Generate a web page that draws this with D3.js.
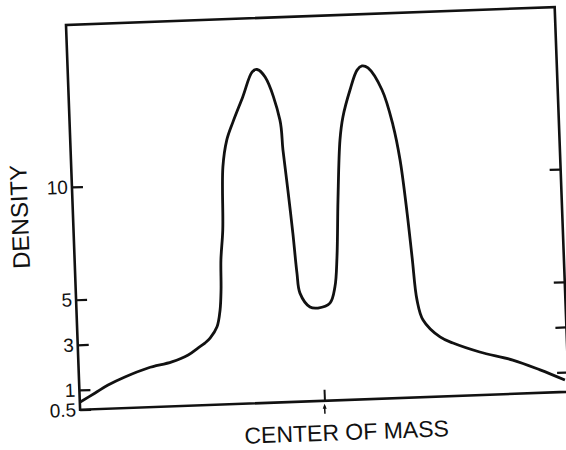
<!DOCTYPE html>
<html>
<head>
<meta charset="utf-8">
<script src="https://cdn.jsdelivr.net/npm/d3@7"></script>
<style>
  body { margin: 0; background: #fff; }
  svg { display: block; }
  text { font-family: "Liberation Sans", Arial, sans-serif; fill: #111; }
</style>
</head>
<body>
<div id="chart-area"></div>
<script>
// Density profile (x: -50..50 across the box, 0 = centre of mass)
let posX = [-50, -46.8, -44.1, -40.6, -35.8, -30.9, -27.5, -25.4, -24.0, -22.9, -21.4, -20.65,
    -20.3, -20.1, -19.5, -19.0, -18.0, -16.6, -14.4, -12.3, -11.3, -9.7, -7.0, -6.6, -5.9, -5.2,
    -4.66, -4.2, -2.25, -0.63, 1.86, 3.0, 3.64, 4.27, 5.13, 5.9, 7.55, 9.14, 10.18, 11.4, 14.1,
    16.07, 17.26, 18.3, 19.0, 19.67, 20.76, 24.1, 26.7, 32.1, 38.8, 44.3, 49.3];
let density = [0.69, 0.91, 1.17, 1.5, 1.86, 2.09, 2.37, 2.67, 2.87, 3.08, 3.57, 4.31,
    5.2, 6.53, 7.85, 10.64, 11.83, 12.62, 13.72, 14.8, 14.9, 14.55, 12.63, 11.3, 9.52, 7.6,
    5.82, 4.93, 4.3, 4.24, 4.44, 5.15, 6.47, 8.99, 11.65, 12.66, 13.84, 14.71, 14.89, 14.79, 13.79,
    12.22, 10.66, 8.3, 6.3, 4.44, 3.54, 2.76, 2.47, 2.03, 1.62, 1.14, 0.8];

let yTicks = [0.5, 1, 3, 5, 10];
let yTicksRight = [1, 3, 5, 10];
let xTicks = [0];

let data = posX.map((x, i) => ({x: x, y: density[i]}));

let W = 566, H = 450;
let width = 489, height = 385;

let svg = d3.select("#chart-area").append("svg")
    .attr("width", W)
    .attr("height", H);

// the scanned page sits slightly tilted
let g = svg.append("g")
    .attr("transform", "translate(66,25) rotate(-2.1)");

let x = d3.scaleLinear()
    .domain([-50, 50])
    .range([0, width]);

// axis is not linear below 1 (0.5 sits on the bottom edge)
let y = d3.scaleLinear()
    .domain([0.5, 1, 17.18])
    .range([height, 365.2, 0]);

// frame
g.append("rect")
    .attr("width", width)
    .attr("height", height)
    .attr("fill", "none")
    .attr("stroke", "#111")
    .attr("stroke-width", 2.6);

let yAxis = d3.axisLeft(y)
    .tickValues(yTicks)
    .tickSizeInner(-11)
    .tickSizeOuter(0)
    .tickPadding(4)
    .tickFormat(d => d);

let yg = g.append("g").call(yAxis);
yg.select(".domain").remove();
yg.selectAll("line").attr("stroke", "#111").attr("stroke-width", 2.2);
yg.selectAll("text").style("font-size", "19px").style("font-family", "Liberation Sans, Arial, sans-serif").attr("fill", "#111");

let yAxisR = d3.axisRight(y)
    .tickValues(yTicksRight)
    .tickSizeInner(-11)
    .tickSizeOuter(0)
    .tickFormat("");

let yrg = g.append("g")
    .attr("transform", "translate(" + width + ",0)")
    .call(yAxisR);
yrg.select(".domain").remove();
yrg.selectAll("line").attr("stroke", "#111").attr("stroke-width", 2.2);

let xAxis = d3.axisBottom(x)
    .tickValues(xTicks)
    .tickSizeInner(-11)
    .tickSizeOuter(0)
    .tickFormat("");

let xg = g.append("g")
    .attr("transform", "translate(0," + height + ")")
    .call(xAxis);
xg.select(".domain").remove();
xg.selectAll("line").attr("stroke", "#111").attr("stroke-width", 2);

// little arrow under the centre tick
xg.append("line")
    .attr("x1", x(0)).attr("x2", x(0))
    .attr("y1", 5).attr("y2", 13)
    .attr("stroke", "#111").attr("stroke-width", 1.5);
xg.append("path")
    .attr("d", "M" + (x(0) - 2) + ",8 L" + x(0) + ",3 L" + (x(0) + 2) + ",8 Z")
    .attr("fill", "#111");

// curve
let line = d3.line()
    .x(d => x(d.x))
    .y(d => y(d.y))
    .curve(d3.curveCatmullRom.alpha(0.5));

g.append("path")
    .datum(data)
    .attr("d", line)
    .attr("fill", "none")
    .attr("stroke", "#111")
    .attr("stroke-width", 2.8)
    .attr("stroke-linejoin", "round");

// axis titles
g.append("text")
    .attr("transform", "translate(-45," + 190 + ") rotate(-90)")
    .attr("text-anchor", "middle")
    .style("font-size", "24px")
    .text("DENSITY");

g.append("text")
    .attr("x", x(0) + 21)
    .attr("y", height + 40)
    .attr("text-anchor", "middle")
    .style("font-size", "23px")
    .text("CENTER OF MASS");
</script>
</body>
</html>
